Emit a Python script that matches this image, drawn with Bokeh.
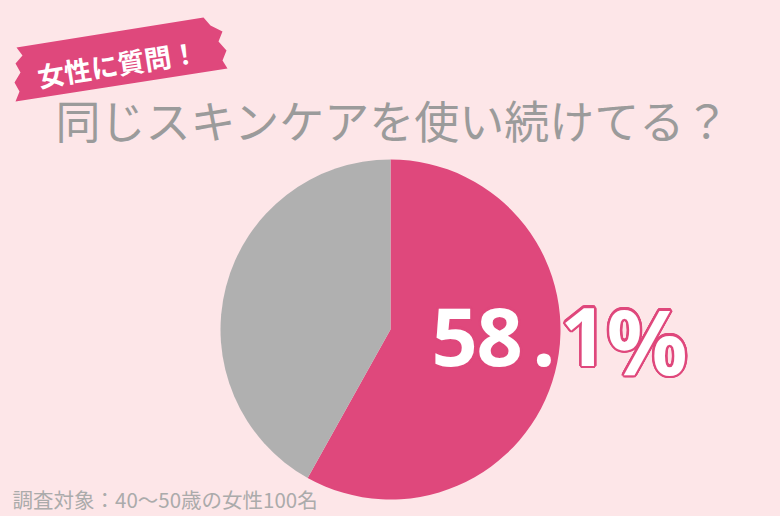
import math
from bokeh.plotting import figure
from bokeh.models import Range1d, ColumnDataSource
from bokeh.embed import file_html
from bokeh.resources import INLINE
from bokeh.core.properties import value

# ---- data ----
labels = ["使い続けている", "使い続けていない"]
shares = [58.1, 41.9]
colors = ["#df487c", "#b0b0b0"]
headline = "58.1%"
title_text = "同じスキンケアを使い続けてる？"
tag_text = "女性に質問！"
note_text = "調査対象：40～50歳の女性100名"

W, H = 780, 516
BG = "#fde6e8"
PINK = "#df487c"

p = figure(width=W, height=H, output_backend="svg", toolbar_location=None,
           x_range=Range1d(0, W), y_range=Range1d(0, H), min_border=0)
p.axis.visible = False
p.grid.visible = False
p.outline_line_color = None
p.background_fill_color = BG
p.border_fill_color = BG

def fy(y):  # reference-screen y -> data y
    return H - y

def fx(x):
    return x

# ---- ribbon tag ----
rib = [(16, 47), (22, 55), (15, 63), (20, 72), (14, 82), (19, 91), (15, 101),
       (227, 68), (222, 60), (226, 50), (218, 41), (222, 31), (210, 25), (203, 17)]
p.patch([fx(a) for a, b in rib], [fy(b) for a, b in rib], fill_color=PINK, line_color=None)
p.text(x=[fx(117)], y=[fy(63)], text=[tag_text], angle=math.radians(9),
       text_font=value("Noto Sans CJK JP"), text_font_style="bold", text_font_size="27px",
       text_color="white", text_align="center", text_baseline="middle")

# ---- title ----
p.text(x=[fx(55)], y=[fy(119)], text=[title_text], text_font=value("Noto Sans CJK JP"),
       text_font_size="45px", text_color="#9b9b9b", text_align="left", text_baseline="middle")

# ---- pie ----
cx, cy, r = fx(390), fy(329), 170
total = sum(shares)
start = math.pi / 2
starts, ends = [], []
for s in shares:
    a = 2 * math.pi * s / total
    starts.append(start)
    ends.append(start - a)
    start -= a
p.wedge(x=[cx] * len(shares), y=[cy] * len(shares), radius=r,
        start_angle=starts, end_angle=ends, direction="clock",
        fill_color=colors, line_color=None)

# ---- headline percentage (pink outline made of offset copies, white on top) ----
chars = list(headline)
char_x = [fx(v) for v in (431, 476, 532, 560, 606)]
char_fs = ["81px", "81px", "81px", "81px", "90px"]
char_y = [fy(336), fy(336), fy(336), fy(336), fy(339)]
d = 2.5
offs = [(d * math.cos(k * math.pi / 8), d * math.sin(k * math.pi / 8)) for k in range(16)]
o = dict(x=[], y=[], t=[], fs=[])
for ox, oy in offs:
    for c, x, y, f in zip(chars, char_x, char_y, char_fs):
        o["x"].append(x + ox)
        o["y"].append(y + oy)
        o["t"].append(c)
        o["fs"].append(f)
p.text(x="x", y="y", text="t", text_font_size="fs", source=ColumnDataSource(o),
       text_font=value("Noto Sans"), text_font_style="bold",
       text_color=PINK, text_align="left", text_baseline="alphabetic")
p.text(x="x", y="y", text="t", text_font_size="fs",
       source=ColumnDataSource(dict(x=char_x, y=char_y, t=chars, fs=char_fs)),
       text_font=value("Noto Sans"), text_font_style="bold", text_color="white",
       text_align="left", text_baseline="alphabetic")

# ---- note ----
p.text(x=[fx(12)], y=[fy(498)], text=[note_text], text_font=value("Noto Sans CJK JP"),
       text_font_size="20.5px", text_color="#ababab", text_align="left", text_baseline="middle")

html = file_html(p, INLINE)
html = html.replace("<head>", "<head><style>html,body{margin:0;padding:0;background:%s;overflow:hidden;}</style>" % BG, 1)
open("out.html", "w").write(html)
